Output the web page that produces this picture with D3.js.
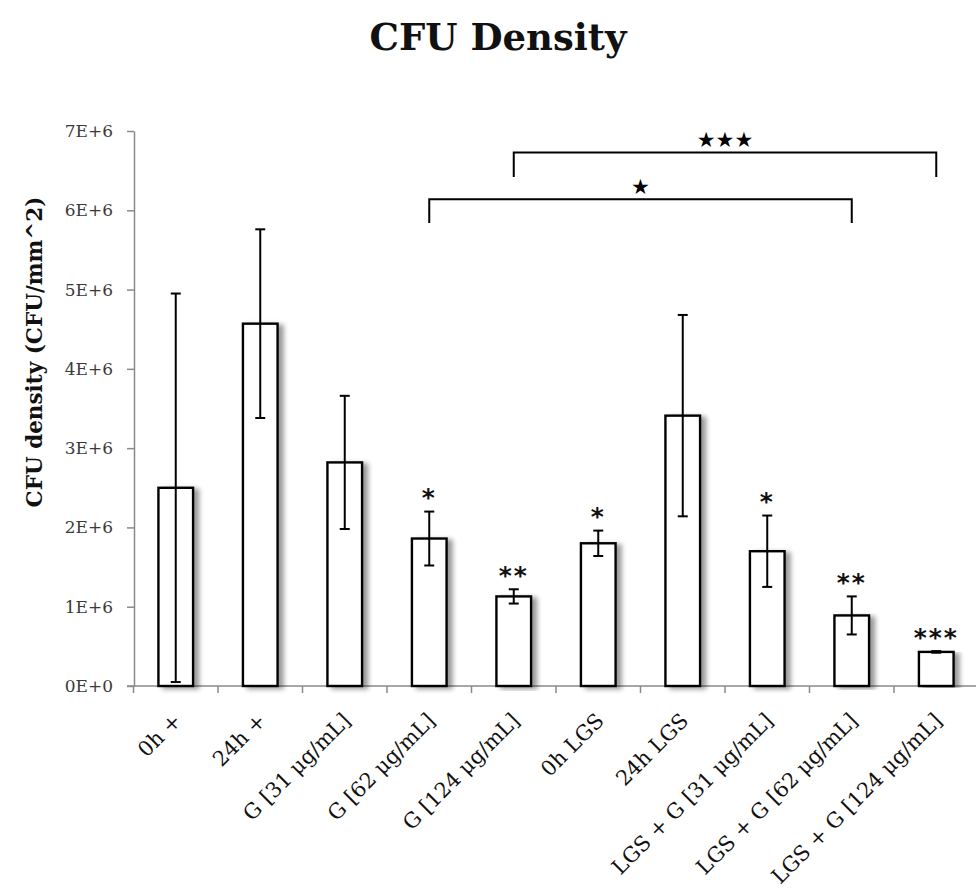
<!DOCTYPE html>
<html>
<head>
<meta charset="utf-8">
<script src="https://cdn.jsdelivr.net/npm/d3@7"></script>
<style>
  html, body { margin: 0; padding: 0; background: #fff; }
  svg { display: block; }
</style>
</head>
<body>
<script>
// ---------- data ----------
const categories = [
  "0h +", "24h +", "G [31 μg/mL]", "G [62 μg/mL]", "G [124 μg/mL]",
  "0h LGS", "24h LGS", "LGS + G [31 μg/mL]", "LGS + G [62 μg/mL]", "LGS + G [124 μg/mL]"
];
const means  = [2.50e6, 4.57e6, 2.82e6, 1.86e6, 1.13e6, 1.80e6, 3.41e6, 1.70e6, 0.89e6, 0.43e6];
const errors = [2.45e6, 1.19e6, 0.84e6, 0.34e6, 0.09e6, 0.16e6, 1.27e6, 0.45e6, 0.24e6, 0.01e6];
const marks  = ["", "", "", "*", "**", "*", "", "*", "**", "***"];
const yTickValues = [0, 1e6, 2e6, 3e6, 4e6, 5e6, 6e6, 7e6];
const yTickLabels = ["0E+0", "1E+6", "2E+6", "3E+6", "4E+6", "5E+6", "6E+6", "7E+6"];
const bracketFrom  = [3, 4];
const bracketTo    = [8, 9];
const bracketLevel = [6.14e6, 6.73e6];
const bracketDrop  = [5.84e6, 6.42e6];
const bracketLabel = ["★", "★★★"];
const chartTitle = "CFU Density";
const yTitle = "CFU density (CFU/mm^2)";

// ---------- layout ----------
const W = 976, H = 895;
const svg = d3.select("body").append("svg").attr("width", W).attr("height", H);

const x = d3.scaleBand().domain(categories).range([133.5, 978.5]).padding(0);
const y = d3.scaleLinear().domain([0, 7e6]).range([686, 131]);
const barW = x.bandwidth() * 0.41;
const cx = c => x(c) + x.bandwidth() / 2;

const defs = svg.append("defs");
const f = defs.append("filter").attr("id", "shadow")
  .attr("x", "-20%").attr("y", "-5%").attr("width", "160%").attr("height", "110%");
f.append("feGaussianBlur").attr("in", "SourceAlpha").attr("stdDeviation", 2.5).attr("result", "b");
f.append("feOffset").attr("in", "b").attr("dx", 5).attr("dy", 2).attr("result", "o");
f.append("feComponentTransfer").attr("in", "o").attr("result", "s")
  .append("feFuncA").attr("type", "linear").attr("slope", 0.4);
const fm = f.append("feMerge");
fm.append("feMergeNode").attr("in", "s");
fm.append("feMergeNode").attr("in", "SourceGraphic");

// title
svg.append("text")
  .attr("x", 498).attr("y", 50)
  .attr("text-anchor", "middle")
  .style("font-family", "'DejaVu Serif', serif")
  .style("font-weight", "bold")
  .style("font-size", "37px")
  .attr("fill", "#111")
  .text(chartTitle);

// y axis
const yAxis = svg.append("g").attr("transform", "translate(134,0)")
  .call(d3.axisLeft(y).tickValues(yTickValues).tickFormat((d, i) => yTickLabels[i])
    .tickSize(7).tickPadding(14).tickSizeOuter(0));
yAxis.select(".domain").attr("stroke", "#8a8a8a").attr("stroke-width", 1.5);
yAxis.selectAll(".tick line").attr("stroke", "#8a8a8a").attr("stroke-width", 1.5);
yAxis.selectAll(".tick text")
  .style("font-family", "'DejaVu Serif', serif")
  .style("font-size", "17px")
  .attr("fill", "#3a3a3a");

// y title
svg.append("text")
  .attr("transform", "translate(42,352) rotate(-90)")
  .attr("text-anchor", "middle")
  .style("font-family", "'DejaVu Serif', serif")
  .style("font-weight", "bold")
  .style("font-size", "21.5px")
  .attr("fill", "#111")
  .text(yTitle);

// x axis line and ticks at category boundaries
const xg = svg.append("g");
xg.append("line").attr("x1", 127).attr("x2", 976).attr("y1", y(0)).attr("y2", y(0))
  .attr("stroke", "#8a8a8a").attr("stroke-width", 1.5);
xg.selectAll("line.tick").data(categories).join("line").attr("class", "tick")
  .attr("x1", d => x(d)).attr("x2", d => x(d))
  .attr("y1", y(0)).attr("y2", y(0) + 7)
  .attr("stroke", "#8a8a8a").attr("stroke-width", 1.5);

// bars
svg.append("g").selectAll("rect").data(categories).join("rect")
  .attr("x", d => cx(d) - barW / 2)
  .attr("width", barW)
  .attr("y", (d, i) => y(means[i]))
  .attr("height", (d, i) => y(0) - y(means[i]))
  .attr("fill", "#fff")
  .attr("stroke", "#000")
  .attr("stroke-width", 2.4)
  .attr("filter", "url(#shadow)");

// error bars
const eg = svg.append("g").attr("stroke", "#000").attr("stroke-width", 2);
categories.forEach((c, i) => {
  const hi = y(means[i] + errors[i]), lo = y(Math.max(0, means[i] - errors[i]));
  eg.append("line").attr("x1", cx(c)).attr("x2", cx(c)).attr("y1", hi).attr("y2", lo);
  eg.append("line").attr("x1", cx(c) - 5).attr("x2", cx(c) + 5).attr("y1", hi).attr("y2", hi);
  eg.append("line").attr("x1", cx(c) - 5).attr("x2", cx(c) + 5).attr("y1", lo).attr("y2", lo);
});

// significance asterisks
svg.append("g").selectAll("text").data(categories).join("text")
  .attr("x", d => cx(d))
  .attr("y", (d, i) => y(means[i] + errors[i]) - 20 + 0.58 * 25)
  .attr("text-anchor", "middle")
  .style("font-family", "'DejaVu Sans', sans-serif")
  .style("font-weight", "bold")
  .style("font-size", "25px")
  .style("letter-spacing", "2px")
  .attr("fill", "#111")
  .text((d, i) => marks[i]);

// x labels
svg.append("g").selectAll("text").data(categories).join("text")
  .attr("transform", d => `translate(${cx(d) + 7},722) rotate(-45)`)
  .attr("text-anchor", "end")
  .style("font-family", "'DejaVu Serif', serif")
  .style("font-size", "21px")
  .attr("fill", "#111")
  .text(d => d);

// brackets
const bg = svg.append("g");
bracketFrom.forEach((a, k) => {
  const x1 = cx(categories[a]), x2 = cx(categories[bracketTo[k]]);
  const yl = y(bracketLevel[k]), yd = y(bracketDrop[k]);
  bg.append("path")
    .attr("d", `M${x1},${yd}V${yl}H${x2}V${yd}`)
    .attr("fill", "none").attr("stroke", "#000").attr("stroke-width", 2);
  bg.append("text")
    .attr("x", (x1 + x2) / 2).attr("y", yl - 5)
    .attr("text-anchor", "middle")
    .style("font-family", "'DejaVu Sans', sans-serif")
    .style("font-size", "21px")
    .attr("fill", "#000")
    .text(bracketLabel[k]);
});
</script>
</body>
</html>
